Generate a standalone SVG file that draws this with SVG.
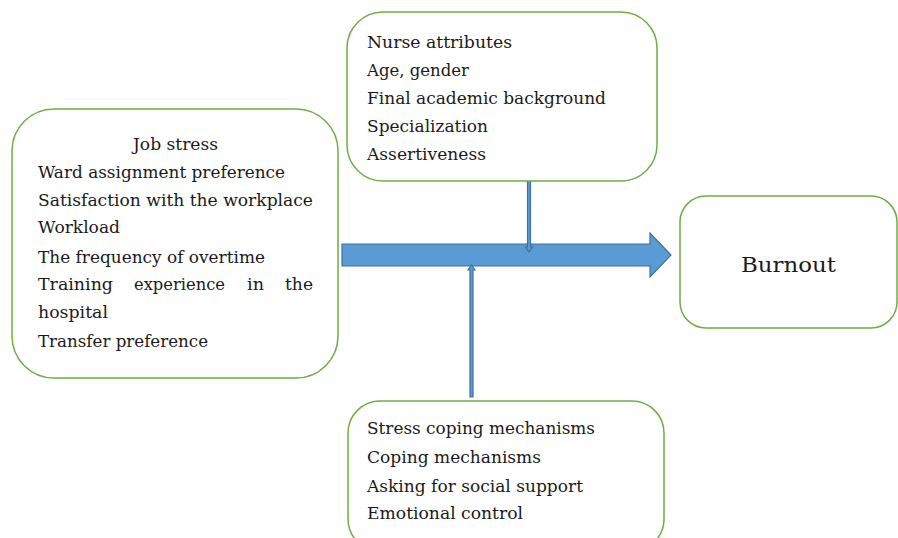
<svg xmlns="http://www.w3.org/2000/svg" width="898" height="538" viewBox="0 0 898 538">
<style>
.box{fill:#fff;stroke:#70AD47;stroke-width:1.5}
.t{font-family:"DejaVu Serif","Liberation Serif",serif;font-size:17px;fill:#1a1a1a}
.arr{fill:#5B9BD5;stroke:#41719C;stroke-width:1.2}
</style>
<rect width="898" height="538" fill="#fff"/>
<g id="connectors">
<polygon class="arr" points="342,244 650,244 650,233 671,255 650,277 650,266 342,266"/>
<polygon class="arr" points="527.5,179 530.5,179 530.5,247 532.5,247 529,252 525.5,247 527.5,247"/>
<polygon class="arr" points="470,397 473,397 473,270 475,270 471.5,265 468,270 470,270"/>
</g>
<g id="job-stress">
<rect class="box" x="12" y="109" width="326" height="269" rx="42"/>
<text class="t" x="133" y="150" textLength="85" lengthAdjust="spacingAndGlyphs">Job stress</text>
<text class="t" x="38" y="178" textLength="247" lengthAdjust="spacingAndGlyphs">Ward assignment preference</text>
<text class="t" x="38" y="206" textLength="275" lengthAdjust="spacingAndGlyphs">Satisfaction with the workplace</text>
<text class="t" x="38" y="233" textLength="82" lengthAdjust="spacingAndGlyphs">Workload</text>
<text class="t" x="38" y="263" textLength="227" lengthAdjust="spacingAndGlyphs">The frequency of overtime</text>
<text class="t" x="38" y="290" textLength="75" lengthAdjust="spacingAndGlyphs">Training</text>
<text class="t" x="134" y="290" textLength="91" lengthAdjust="spacingAndGlyphs">experience</text>
<text class="t" x="247" y="290" textLength="17" lengthAdjust="spacingAndGlyphs">in</text>
<text class="t" x="285" y="290" textLength="28" lengthAdjust="spacingAndGlyphs">the</text>
<text class="t" x="38" y="318" textLength="70" lengthAdjust="spacingAndGlyphs">hospital</text>
<text class="t" x="38" y="347" textLength="170" lengthAdjust="spacingAndGlyphs">Transfer preference</text>
</g>
<g id="nurse-attributes">
<rect class="box" x="347" y="12" width="310" height="169" rx="36"/>
<text class="t" x="367" y="48" textLength="145" lengthAdjust="spacingAndGlyphs">Nurse attributes</text>
<text class="t" x="367" y="76" textLength="102" lengthAdjust="spacingAndGlyphs">Age, gender</text>
<text class="t" x="367" y="104" textLength="239" lengthAdjust="spacingAndGlyphs">Final academic background</text>
<text class="t" x="367" y="132" textLength="121" lengthAdjust="spacingAndGlyphs">Specialization</text>
<text class="t" x="367" y="160" textLength="119" lengthAdjust="spacingAndGlyphs">Assertiveness</text>
</g>
<g id="burnout">
<rect class="box" x="680" y="196" width="217" height="132" rx="26"/>
<text class="t" x="741" y="272" textLength="95" lengthAdjust="spacingAndGlyphs" style="font-size:21px">Burnout</text>
</g>
<g id="coping">
<rect class="box" x="348" y="401" width="316" height="150" rx="32"/>
<text class="t" x="367" y="434" textLength="228" lengthAdjust="spacingAndGlyphs">Stress coping mechanisms</text>
<text class="t" x="367" y="463" textLength="174" lengthAdjust="spacingAndGlyphs">Coping mechanisms</text>
<text class="t" x="367" y="492" textLength="216" lengthAdjust="spacingAndGlyphs">Asking for social support</text>
<text class="t" x="367" y="519" textLength="156" lengthAdjust="spacingAndGlyphs">Emotional control</text>
</g>
</svg>
